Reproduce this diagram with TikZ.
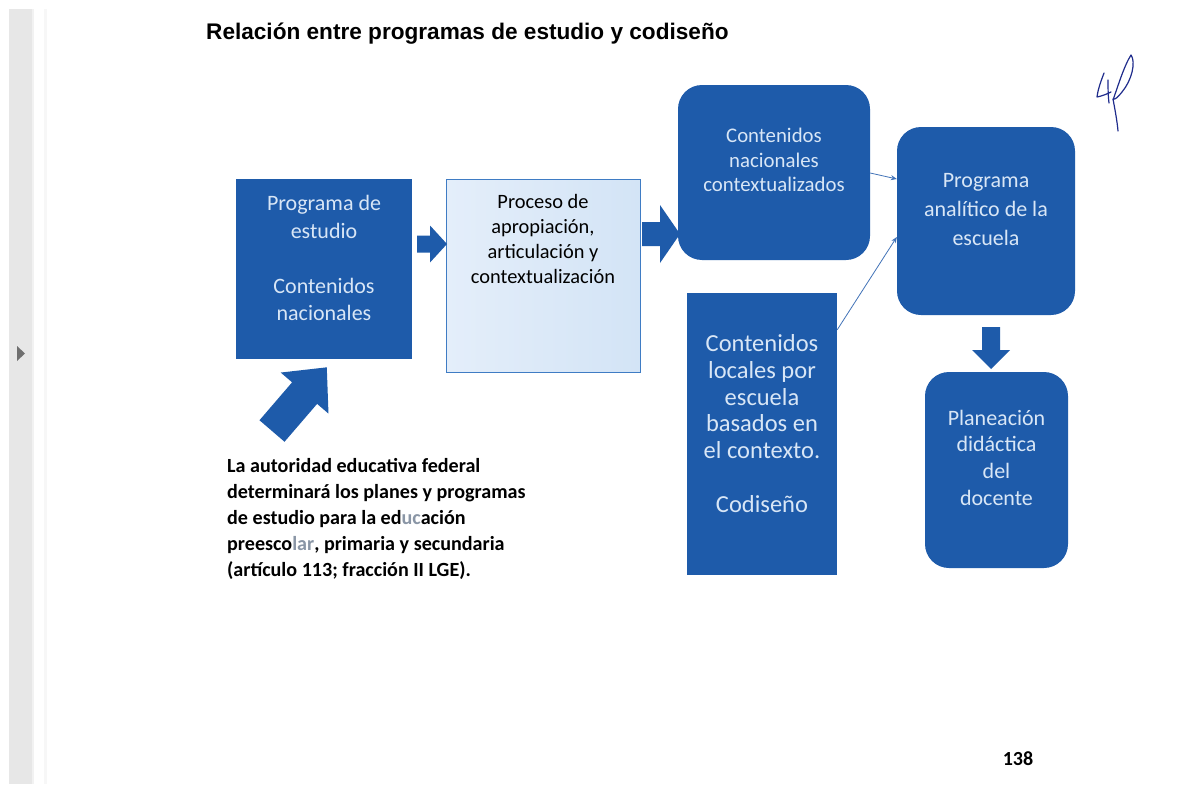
\documentclass[tikz,border=0pt]{standalone}
\usepackage{fontspec}
\setmainfont{Carlito}
\newfontfamily\titlefont{Liberation Sans}
\usetikzlibrary{arrows.meta,calc}
\definecolor{boxblue}{HTML}{1E5BAA}
\definecolor{boxtxt}{HTML}{D8E6F6}
\definecolor{lightleft}{HTML}{E4EEFA}
\definecolor{lightright}{HTML}{D3E4F6}
\definecolor{lightedge}{HTML}{3F7CC4}
\definecolor{thinblue}{HTML}{4273B8}
\definecolor{stripgray}{HTML}{E7E7E7}
\definecolor{trigray}{HTML}{6F6F6F}
\definecolor{inkblue}{HTML}{1F2C8C}
\definecolor{faint}{HTML}{8A96A6}
% tail x,y ; angle ; length ; shaft half ; head half ; head length
\newcommand{\blockarr}[7]{%
  \begin{scope}[shift={(#1,#2)},rotate=#3]
    \fill[boxblue] (0,-#5) -- ({#4-#7},-#5) -- ({#4-#7},-#6) -- (#4,0)
      -- ({#4-#7},#6) -- ({#4-#7},#5) -- (0,#5) -- cycle;
  \end{scope}}
\begin{document}
\begin{tikzpicture}[x=1pt,y=-1pt,
  bluebox/.style={fill=boxblue,draw=none,inner sep=0pt},
  roundbox/.style={bluebox,rounded corners=24pt},
  btxt/.style={text=boxtxt,align=center,inner sep=0pt},
  thinarrow/.style={draw=thinblue,line width=0.8pt,-{Stealth[length=6pt,width=5pt]}}]
\useasboundingbox (0,0) rectangle (1180,784);
\fill[white] (0,0) rectangle (1180,784);
% left strip
\fill[stripgray] (9,9) rectangle (32,784);
\fill[black!5] (32,9) rectangle (34,784);
\fill[black!3] (44,9) rectangle (47,784);
\fill[trigray] (17,346) -- (25,353.5) -- (17,361) -- cycle;
% title
\node[anchor=west,inner sep=0pt,font=\titlefont\bfseries\fontsize{22.6}{27}\selectfont] (title) at (206,33.5) {Relación entre programas de estudio y codiseño};
% boxes
\node[bluebox,minimum width=176pt,minimum height=180pt] (b1) at (324,269) {};
\node[draw=lightedge,line width=1pt,left color=lightleft,right color=lightright,inner sep=0pt,minimum width=194pt,minimum height=193pt] (b2) at (543,275.5) {};
\node[roundbox,minimum width=192pt,minimum height=175pt] (b3) at (774,172.5) {};
\node[roundbox,minimum width=178pt,minimum height=188pt] (b4) at (986,221) {};
\node[bluebox,minimum width=150pt,minimum height=282pt] (b5) at (762,434) {};
\node[roundbox,minimum width=143pt,minimum height=196pt] (b6) at (996.5,470) {};
% texts
\node[btxt,font=\fontsize{22}{27.5}\selectfont] (t1) at (324,258) {Programa de\\estudio\\[\baselineskip]Contenidos\\nacionales};
\node[align=center,inner sep=0pt,text=black,font=\fontsize{20.4}{24.8}\selectfont] (t2) at (543,239) {Proceso de\\apropiación,\\articulación y\\contextualización};
\node[btxt,font=\fontsize{20.8}{24.5}\selectfont] (t3) at (774,160) {Contenidos\\nacionales\\contextualizados};
\node[btxt,font=\fontsize{22}{29}\selectfont] (t4) at (986,209.5) {Programa\\analítico de la\\escuela};
\node[btxt,font=\fontsize{24.5}{26.7}\selectfont] (t5) at (762,423.5) {Contenidos\\locales por\\escuela\\basados en\\el contexto.\\[\baselineskip]Codiseño};
\node[btxt,font=\fontsize{22}{26.7}\selectfont] (t6) at (996.5,457.5) {Planeación\\didáctica\\del\\docente};
% note
\node[anchor=west,align=left,inner sep=0pt,font=\bfseries\fontsize{20.1}{26.2}\selectfont] (note) at (227,519) {La autoridad educativa federal\\determinará los planes y programas\\de estudio para la ed\textcolor{faint}{uc}ación\\preesco\textcolor{faint}{lar}, primaria y secundaria\\(artículo 113; fracción II LGE).};
% page number
\node[inner sep=0pt,font=\bfseries\fontsize{20}{24}\selectfont] (page) at (1018,759) {138};
% block arrows
\blockarr{417}{244}{0}{30}{8.5}{18.5}{17}
\blockarr{642}{234}{0}{38}{12}{29}{20}
\blockarr{991}{327}{-90}{42}{9}{19}{19}
\blockarr{272}{431}{49.3}{84}{16.5}{31.5}{34}
% thin connectors
\draw[thinarrow] (b3.east |- 0,173) -- ([yshift=42pt]b4.west);
\draw[thinarrow] ([yshift=-37pt]b5.north east) -- ([yshift=-16pt]b4.west);
% signature
\begin{scope}[draw=inkblue,line width=1.2pt,line cap=round,line join=round]
\draw (1104,73) .. controls (1101,81) and (1098,89) .. (1097,97) .. controls (1102,96) and (1107,94) .. (1111,92);
\draw (1108,80) .. controls (1108,87) and (1108,95) .. (1109,103);
\draw (1113,100) .. controls (1118,86) and (1124,66) .. (1131,55) .. controls (1136,62) and (1132,80) .. (1122,92) .. controls (1118,97) and (1115,100) .. (1113,99) .. controls (1115,110) and (1117,120) .. (1118,131);
\end{scope}
\end{tikzpicture}
\end{document}
